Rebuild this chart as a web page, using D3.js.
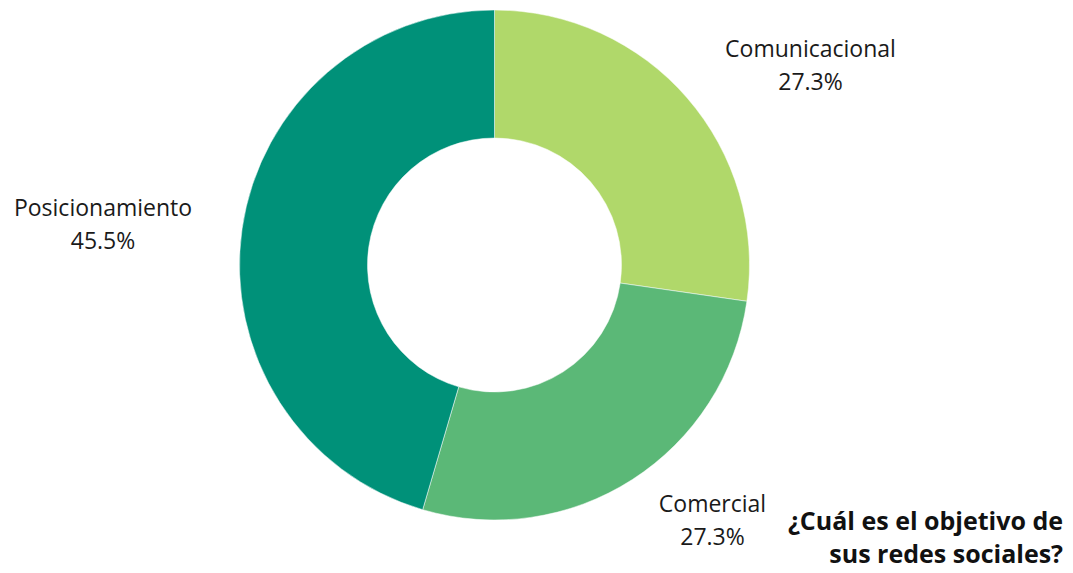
<!DOCTYPE html>
<html>
<head>
<meta charset="utf-8">
<script src="https://cdn.jsdelivr.net/npm/d3@7"></script>
<style>
  html, body { margin: 0; padding: 0; background: #fff; }
  svg { display: block; font-family: "Open Sans", sans-serif; }
</style>
</head>
<body>
<svg id="chart" width="1073" height="573"></svg>
<script>
// Objetivo de las redes sociales (respuestas)
const categories = ["Comunicacional", "Comercial", "Posicionamiento"];
const values = [3, 3, 5];
const colors = ["#b0d86a", "#5bb877", "#009179"];
const titleLines = ["¿Cuál es el objetivo de", "sus redes sociales?"];

const svg = d3.select("#chart");
const cx = 494.5, cy = 265, outerR = 255, innerR = 127;

const total = d3.sum(values);
const pie = d3.pie().sort(null).value(d => d)(values);
const arc = d3.arc().innerRadius(innerR).outerRadius(outerR);
const color = d3.scaleOrdinal().domain(categories).range(colors);

const g = svg.append("g").attr("transform", `translate(${cx},${cy})`);
g.selectAll("path")
  .data(pie)
  .join("path")
  .attr("d", arc)
  .attr("fill", (d, i) => color(categories[i]))
  .attr("stroke", "#fff")
  .attr("stroke-width", 0.5);

// label anchor points (centre of each two-line label, relative to donut centre)
const labelAnchors = [[316, -208], [218, -17 + 264], [-391.5, -49]];
const fmt = v => (v / total * 100).toFixed(1) + "%";

const labels = svg.append("g")
  .attr("font-size", 23)
  .attr("fill", "#1a1a1a")
  .attr("text-anchor", "middle");
pie.forEach((d, i) => {
  const [dx, dy] = labelAnchors[i];
  const t = labels.append("text")
    .attr("x", cx + dx)
    .attr("y", cy + dy);
  t.append("tspan").attr("x", cx + dx).text(categories[i]);
  t.append("tspan").attr("x", cx + dx).attr("dy", 33).text(fmt(d.value));
});

const title = svg.append("text")
  .attr("x", 1063)
  .attr("y", 530)
  .attr("text-anchor", "end")
  .attr("font-size", 25)
  .attr("font-weight", "bold")
  .attr("fill", "#111");
titleLines.forEach((line, i) => {
  title.append("tspan").attr("x", 1063).attr("dy", i === 0 ? 0 : 33).text(line);
});
</script>
</body>
</html>
